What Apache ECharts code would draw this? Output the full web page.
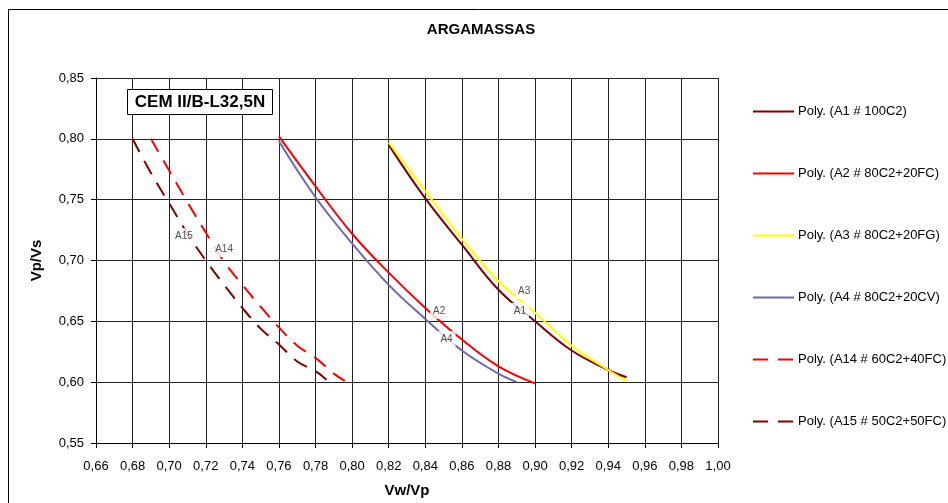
<!DOCTYPE html>
<html>
<head>
<meta charset="utf-8">
<script src="https://cdn.jsdelivr.net/npm/echarts@6/dist/echarts.min.js"></script>
<style>
html,body{margin:0;padding:0;background:#fff;}
#c{width:948px;height:503px;}
</style>
</head>
<body>
<div id="c"></div>
<script>
// ---- data ----
const seriesNames = [
  'Poly. (A1 # 100C2)',
  'Poly. (A2 # 80C2+20FC)',
  'Poly. (A3 # 80C2+20FG)',
  'Poly. (A4 # 80C2+20CV)',
  'Poly. (A14 # 60C2+40FC)',
  'Poly. (A15 # 50C2+50FC)'
];
const A1_x = [0.82, 0.84, 0.86, 0.88, 0.90, 0.92, 0.94, 0.95];
const A1_y = [0.795, 0.751, 0.713, 0.676, 0.650, 0.626, 0.610, 0.604];
const A2_x = [0.76, 0.78, 0.80, 0.82, 0.84, 0.86, 0.88, 0.90];
const A2_y = [0.802, 0.761, 0.722, 0.690, 0.661, 0.635, 0.613, 0.599];
const A3_x = [0.82, 0.84, 0.86, 0.88, 0.90, 0.92, 0.94, 0.95];
const A3_y = [0.797, 0.757, 0.718, 0.683, 0.657, 0.630, 0.610, 0.601];
const A4_x = [0.76, 0.78, 0.80, 0.82, 0.84, 0.86, 0.88, 0.89];
const A4_y = [0.798, 0.752, 0.714, 0.680, 0.652, 0.626, 0.607, 0.600];
const A14_x = [0.69, 0.70, 0.71, 0.72, 0.73, 0.74, 0.75, 0.76, 0.77, 0.78, 0.79, 0.796];
const A14_y = [0.800, 0.774, 0.748, 0.723, 0.699, 0.680, 0.662, 0.645, 0.630, 0.620, 0.607, 0.601];
const A15_x = [0.68, 0.69, 0.70, 0.71, 0.72, 0.73, 0.74, 0.75, 0.76, 0.77, 0.78, 0.786];
const A15_y = [0.800, 0.772, 0.747, 0.722, 0.700, 0.680, 0.661, 0.644, 0.631, 0.617, 0.609, 0.602];

const labelNames = ['A1', 'A2', 'A3', 'A4', 'A15', 'A14'];
const labelX = [0.8917, 0.8476, 0.894, 0.8516, 0.7081, 0.730];
const labelY = [0.6586, 0.6586, 0.675, 0.6354, 0.720, 0.7094];

const xMin = 0.66, xMax = 1.00, xStep = 0.02;
const yMin = 0.55, yMax = 0.85, yStep = 0.05;

// ---- chart ----
const FONT = '"Liberation Sans", Arial, sans-serif';
const pairs = (xs, ys) => xs.map((x, i) => [x, ys[i]]);
const fmt = v => v.toFixed(2).replace('.', ',');

const styles = [
  {color: '#800000', type: 'solid'},
  {color: '#FF0000', type: 'solid'},
  {color: '#FFFF00', type: 'solid'},
  {color: '#6B6BA8', type: 'solid'},
  {color: '#FF0000', type: [15, 10]},
  {color: '#800000', type: [15, 10]}
];
const dataSets = [
  pairs(A1_x, A1_y), pairs(A2_x, A2_y), pairs(A3_x, A3_y),
  pairs(A4_x, A4_y), pairs(A14_x, A14_y), pairs(A15_x, A15_y)
];

const series = seriesNames.map((name, i) => ({
  name: name,
  type: 'line',
  smooth: 0.4,
  symbol: 'none',
  data: dataSets[i],
  lineStyle: {color: styles[i].color, width: 2, type: styles[i].type},
  itemStyle: {color: styles[i].color},
  z: 3,
  silent: true
}));

series.push({
  name: 'labels',
  type: 'scatter',
  symbolSize: 0,
  silent: true,
  z: 10,
  data: labelNames.map((n, i) => ({name: n, value: [labelX[i], labelY[i]]})),
  label: {
    show: true,
    position: 'inside',
    formatter: '{b}',
    fontFamily: FONT,
    fontSize: 10,
    color: '#222',
    backgroundColor: '#fff',
    padding: [3, 3]
  }
});

const chart = echarts.init(document.getElementById('c'), null, {renderer: 'canvas'});
chart.setOption({
  animation: false,
  backgroundColor: '#fff',
  grid: {left: 96, right: 230, top: 78, bottom: 60, containLabel: false},
  xAxis: {
    type: 'value', min: xMin, max: xMax, interval: xStep,
    name: 'Vw/Vp', nameLocation: 'middle', nameGap: 40,
    nameTextStyle: {fontFamily: FONT, fontSize: 15, fontWeight: 'bold', color: '#000'},
    axisLine: {show: true, onZero: false, lineStyle: {color: '#000', width: 1}},
    axisTick: {show: true, length: 5, lineStyle: {color: '#000'}},
    axisLabel: {formatter: fmt, fontFamily: FONT, fontSize: 13, color: '#000', margin: 17},
    splitLine: {show: true, lineStyle: {color: '#222', width: 1}}
  },
  yAxis: {
    type: 'value', min: yMin, max: yMax, interval: yStep,
    name: 'Vp/Vs', nameLocation: 'middle', nameGap: 52,
    nameTextStyle: {fontFamily: FONT, fontSize: 15, fontWeight: 'bold', color: '#000'},
    axisLine: {show: true, onZero: false, lineStyle: {color: '#000', width: 1}},
    axisTick: {show: true, length: 5, lineStyle: {color: '#000'}},
    axisLabel: {formatter: fmt, fontFamily: FONT, fontSize: 13, color: '#000', margin: 12},
    splitLine: {show: true, lineStyle: {color: '#222', width: 1}}
  },
  legend: {
    data: seriesNames,
    orient: 'vertical',
    left: 752, top: 105,
    padding: 0,
    itemWidth: 41, itemHeight: 14, itemGap: 49,
    selectedMode: false,
    itemStyle: {opacity: 0},
    textStyle: {fontFamily: FONT, fontSize: 13, color: '#000', padding: [0, 0, 0, -1]}
  },
  graphic: [
    {
      type: 'rect', silent: true, z: -1,
      shape: {x: 8.5, y: 9.5, width: 1000, height: 600},
      style: {fill: 'none', stroke: '#000', lineWidth: 1}
    },
    {
      type: 'text', silent: true,
      x: 481, y: 30,
      style: {text: 'ARGAMASSAS', font: 'bold 15px ' + FONT, fill: '#000', textAlign: 'center', textVerticalAlign: 'middle'}
    },
    {
      type: 'rect', silent: true, z: 20,
      shape: {x: 127.5, y: 89.5, width: 145, height: 25},
      style: {fill: '#fff', stroke: '#000', lineWidth: 1}
    },
    {
      type: 'text', silent: true, z: 21,
      x: 200, y: 102.5,
      style: {text: 'CEM II/B-L32,5N', font: 'bold 17px ' + FONT, fill: '#000', textAlign: 'center', textVerticalAlign: 'middle'}
    }
  ],
  series: series
});
</script>
</body>
</html>
